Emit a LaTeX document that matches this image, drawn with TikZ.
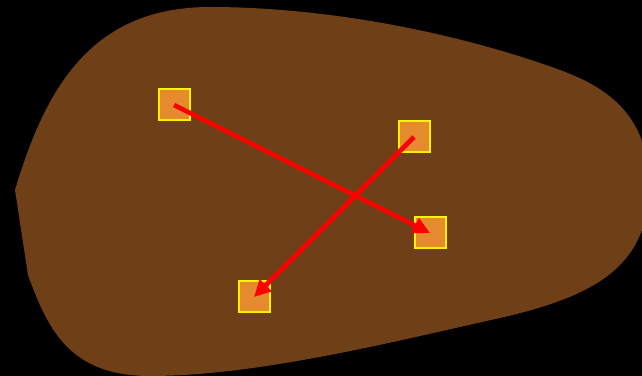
\documentclass[tikz,border=0pt]{standalone}
\usepackage{tikz}
\usetikzlibrary{arrows.meta}
\definecolor{blob}{HTML}{6F4017}
\definecolor{box}{HTML}{E68A2E}
\tikzset{
  spot/.style={draw=yellow,fill=box,line width=0.06cm,minimum size=0.93cm,inner sep=0pt},
  move/.style={draw=red,line width=0.14cm,-{Triangle[length=0.5cm,width=0.48cm]}}
}

\begin{document}
\begin{tikzpicture}[x=0.03cm,y=-0.03cm]
  \fill[black](0,0) rectangle (642,376);
  \useasboundingbox (0,0) rectangle (642,376);
  % the blob
  \fill[blob](15,190)--(28,275)
    .. controls (48,330) and (70,376) .. (150,376)
    .. controls (260,376) and (400,340) .. (500,318)
    .. controls (600,295) and (645,265) .. (650,190)
    .. controls (650,110) and (600,85) .. (560,70)
    .. controls (450,30) and (320,7) .. (210,7)
    .. controls (90,7) and (45,90) .. (15,190)--cycle;
  % squares
  \node[spot](nw) at (174,105){};
  \node[spot](ne) at (414,137){};
  \node[spot](se) at (430,233){};
  \node[spot](sw) at (254,297){};
  % arrows
  \draw[move](nw.center)--(se.center);
  \draw[move](ne.center)--(sw.center);
\end{tikzpicture}
\end{document}
